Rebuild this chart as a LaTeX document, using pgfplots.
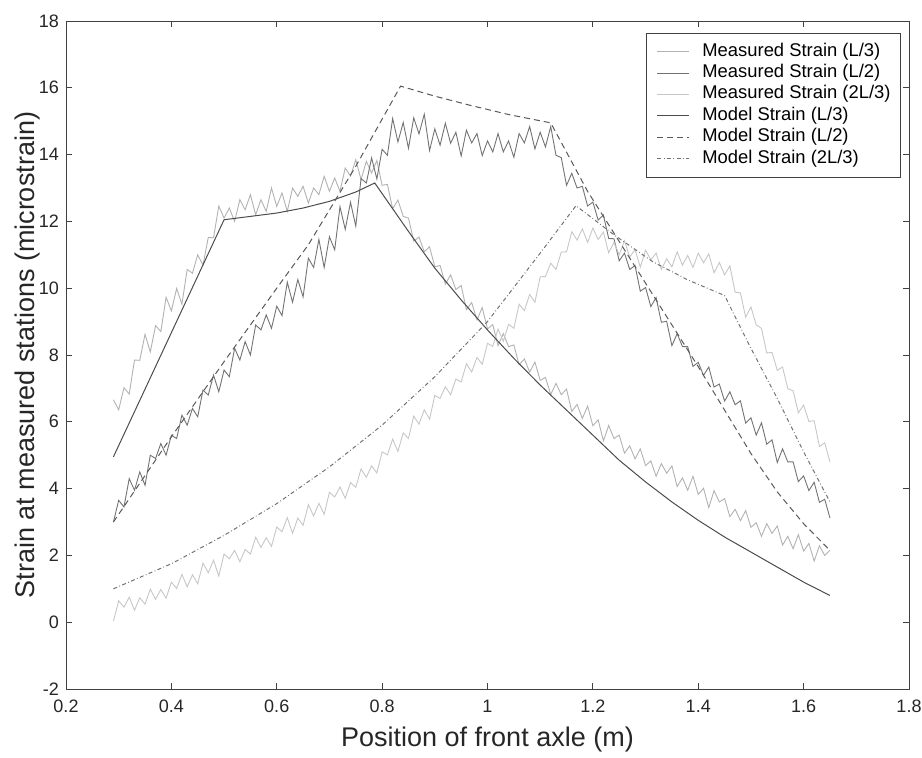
\documentclass[border=0pt]{standalone}
\usepackage{fontspec}
\setmainfont{Liberation Sans}
\usepackage{pgfplots}
\pgfplotsset{compat=1.18}
\usepackage{pgfplotstable}

% measured strains: A = L/3, B = L/2, C = 2L/3
\pgfplotstableread{
x A B C
0.29 6.66 3.00 0.03
0.30 6.36 3.65 0.64
0.31 7.02 3.45 0.45
0.32 6.83 4.30 0.75
0.33 7.85 3.95 0.36
0.34 7.84 4.50 0.73
0.35 8.62 4.10 0.54
0.36 8.09 5.00 0.99
0.37 8.88 4.90 0.69
0.38 8.70 5.35 0.98
0.39 9.73 5.00 0.72
0.40 9.32 5.60 1.20
0.41 9.99 5.50 1.01
0.42 9.52 6.20 1.43
0.43 10.56 5.90 1.06
0.44 10.45 6.40 1.42
0.45 11.00 6.15 1.15
0.46 10.69 6.95 1.77
0.47 11.52 6.80 1.48
0.48 11.51 7.40 1.86
0.49 12.46 6.90 1.38
0.50 12.10 7.55 2.04
0.51 12.40 7.35 1.90
0.52 12.00 8.20 2.15
0.53 12.65 7.85 1.81
0.54 12.35 8.40 2.18
0.55 12.80 8.00 2.04
0.56 12.20 8.90 2.54
0.57 12.65 8.75 2.24
0.58 12.30 9.20 2.53
0.59 13.00 8.80 2.27
0.60 12.45 9.46 2.85
0.61 12.85 9.18 2.71
0.62 12.30 10.18 3.13
0.63 13.00 9.58 2.66
0.64 12.75 10.26 3.12
0.65 13.05 9.74 2.90
0.66 12.55 10.90 3.52
0.67 13.00 10.62 3.18
0.68 12.80 11.46 3.56
0.69 13.35 10.62 3.23
0.70 12.90 11.54 3.89
0.71 13.30 11.15 3.75
0.72 12.90 12.44 4.05
0.73 13.60 11.76 3.71
0.74 13.35 12.57 4.18
0.75 13.85 11.86 4.04
0.76 13.25 13.28 4.59
0.77 13.80 13.15 4.34
0.78 13.45 13.90 4.68
0.79 13.82 13.27 4.47
0.80 13.08 14.16 5.10
0.81 13.11 13.98 5.01
0.82 12.38 15.08 5.48
0.83 12.64 14.38 5.11
0.84 12.15 14.96 5.67
0.85 12.10 14.19 5.50
0.86 11.41 15.10 6.17
0.87 11.53 14.62 5.93
0.88 11.09 15.21 6.36
0.89 11.24 14.12 6.08
0.90 10.64 14.77 6.79
0.91 10.68 14.28 6.70
0.92 10.12 14.94 7.05
0.93 10.40 14.34 6.81
0.94 9.96 14.67 7.28
0.95 10.08 13.96 7.19
0.96 9.36 14.73 7.74
0.97 9.57 14.35 7.49
0.98 9.05 14.63 7.93
0.99 9.42 13.97 7.72
1.00 8.78 14.41 8.35
1.01 8.91 14.08 8.26
1.02 8.28 14.63 8.78
1.03 8.64 14.08 8.41
1.04 8.25 14.41 8.92
1.05 8.30 13.92 8.80
1.06 7.71 14.63 9.52
1.07 7.88 14.35 9.33
1.08 7.49 14.84 9.81
1.09 7.79 14.17 9.58
1.10 7.24 14.67 10.34
1.11 7.33 14.23 10.35
1.12 6.82 14.84 10.75
1.13 7.15 13.98 10.56
1.14 6.81 13.91 11.08
1.15 6.98 13.08 11.09
1.16 6.31 13.44 11.69
1.17 6.52 13.00 11.44
1.18 6.10 13.05 11.78
1.19 6.47 12.46 11.37
1.20 5.88 12.58 11.80
1.21 6.06 12.04 11.46
1.22 5.43 12.19 11.68
1.23 5.89 11.49 11.06
1.24 5.50 11.48 11.37
1.25 5.60 10.82 11.00
1.26 5.06 11.05 11.42
1.27 5.28 10.56 10.93
1.28 4.89 10.68 11.16
1.29 5.19 9.91 10.63
1.30 4.69 10.02 11.14
1.31 4.83 9.45 10.85
1.32 4.37 9.72 11.05
1.33 4.75 8.98 10.56
1.34 4.46 9.01 10.88
1.35 4.68 8.28 10.64
1.36 4.06 8.64 11.09
1.37 4.32 8.25 10.69
1.38 3.95 8.25 10.98
1.39 4.37 7.66 10.62
1.40 3.83 7.78 11.05
1.41 4.01 7.39 10.76
1.42 3.43 7.64 11.03
1.43 3.94 7.04 10.46
1.44 3.60 7.13 10.77
1.45 3.70 6.62 10.40
1.46 3.16 6.90 10.67
1.47 3.38 6.51 9.88
1.48 3.04 6.63 9.86
1.49 3.34 5.96 9.13
1.50 2.84 6.12 9.44
1.51 2.98 5.60 8.90
1.52 2.57 5.97 8.80
1.53 2.95 5.33 8.06
1.54 2.66 5.46 8.08
1.55 2.88 4.78 7.54
1.56 2.31 5.19 7.64
1.57 2.57 4.80 6.99
1.58 2.20 4.80 6.93
1.59 2.62 4.21 6.27
1.60 2.13 4.38 6.50
1.61 2.36 3.94 6.01
1.62 1.83 4.19 6.03
1.63 2.29 3.59 5.26
1.64 2.00 3.68 5.37
1.65 2.15 3.12 4.80
}\measured

\begin{document}
\begin{tikzpicture}
\begin{axis}[
  scale only axis,
  width=421.5pt, height=334pt,
  xmin=0.2, xmax=1.8, ymin=-2, ymax=18,
  xtick={0.2,0.4,0.6,0.8,1,1.2,1.4,1.6,1.8},
  ytick={-2,0,2,4,6,8,10,12,14,16,18},
  tick align=inside,
  major tick length=3pt,
  axis line style={black!75, line width=0.4pt},
  tick style={black!75, line width=0.4pt},
  /pgf/number format/assume math mode=true,
  ticklabel style={font=\fontsize{9}{10}\selectfont, text=black!85},
  xticklabel style={yshift=-2pt},
  label style={font=\fontsize{13.5}{15}\selectfont, text=black!85},
  xlabel={Position of front axle (m)},
  ylabel={Strain at measured stations (microstrain)},
  xlabel style={at={(axis description cs:0.5,0)}, anchor=base, yshift=-28.5pt},
  ylabel style={at={(axis description cs:0,0.5)}, anchor=south, yshift=9.5pt},
  legend cell align=left,
  legend style={at={(0.9905,0.982)}, anchor=north east,
    draw=black!75, line width=0.4pt,
    font=\fontsize{9.2}{10.7}\selectfont,
    nodes={inner sep=0pt, text height=7.5pt, text depth=3.2pt},
    column sep=6.3pt, inner xsep=5pt, inner ysep=3.8pt},
  legend image code/.code={\draw[#1] (0pt,0pt) -- (16pt,0pt);},
]
\addplot[black!30, line width=0.45pt] table[x=x, y=A] {\measured};
\addlegendentry{Measured Strain (L/3)}
\addplot[black!55, line width=0.45pt] table[x=x, y=B] {\measured};
\addlegendentry{Measured Strain (L/2)}
\addplot[black!22, line width=0.45pt] table[x=x, y=C] {\measured};
\addlegendentry{Measured Strain (2L/3)}

\addplot[black!70, line width=0.5pt] coordinates {
(0.29,4.95) (0.5,12.05) (0.55,12.15) (0.6,12.25) (0.65,12.4) (0.7,12.6)
(0.75,12.88) (0.786,13.15) (0.85,11.7) (0.9,10.6) (0.95,9.65) (1.0,8.75)
(1.05,7.9) (1.1,7.1) (1.15,6.35) (1.2,5.6) (1.25,4.85) (1.3,4.2)
(1.35,3.6) (1.4,3.05) (1.45,2.55) (1.5,2.1) (1.55,1.65) (1.6,1.2) (1.65,0.8)};
\addlegendentry{Model Strain (L/3)}
\addplot[black!65, line width=0.5pt, dash pattern=on 3pt off 2pt] coordinates {
(0.29,3.0) (0.4,5.55) (0.5,7.8) (0.6,10.0) (0.66,11.3) (0.75,13.65)
(0.835,16.05) (0.9,15.75) (0.966,15.48) (1.04,15.2) (1.12,14.95)
(1.19,12.9) (1.25,11.4) (1.3,10.15) (1.35,8.9) (1.4,7.65) (1.45,6.35)
(1.5,5.05) (1.55,3.9) (1.6,2.95) (1.65,2.15)};
\addlegendentry{Model Strain (L/2)}
\addplot[black!55, line width=0.5pt, dash pattern=on 2pt off 1.2pt on 0.4pt off 1.2pt] coordinates {
(0.29,1.0) (0.4,1.75) (0.5,2.6) (0.6,3.55) (0.7,4.65) (0.8,5.9)
(0.9,7.35) (1.0,9.0) (1.1,11.05) (1.168,12.47) (1.24,11.6) (1.314,10.79)
(1.38,10.25) (1.45,9.78) (1.5,8.2) (1.55,6.7) (1.6,5.1) (1.65,3.6)};
\addlegendentry{Model Strain (2L/3)}
\end{axis}
\pgfresetboundingbox
\path (current axis.south west) ++(-33pt,-34pt) coordinate (bbl);
\path (current axis.north east) ++(6.5pt,10.5pt) coordinate (btr);
\useasboundingbox (bbl) rectangle (btr);
\end{tikzpicture}
\end{document}
